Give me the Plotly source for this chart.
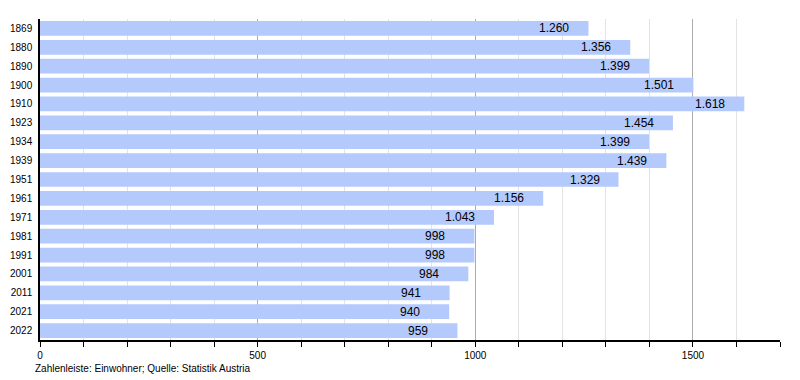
import plotly.graph_objects as go

years = ["1869", "1880", "1890", "1900", "1910", "1923", "1934", "1939", "1951",
         "1961", "1971", "1981", "1991", "2001", "2011", "2021", "2022"]
population = [1260, 1356, 1399, 1501, 1618, 1454, 1399, 1439, 1329,
              1156, 1043, 998, 998, 984, 941, 940, 959]
x_ticks = [0, 500, 1000, 1500]
caption = "Zahlenleiste: Einwohner; Quelle: Statistik Austria"


def fmt(v):
    return f"{v:,}".replace(",", ".")


FONT = "Liberation Sans, Arial, Helvetica, sans-serif"

fig = go.Figure()
fig.add_trace(go.Bar(
    x=population, y=years, orientation="h",
    marker=dict(color="rgb(180,201,252)", line=dict(width=0)),
    hoverinfo="skip",
))

annotations = []
for i, v in enumerate(population):
    annotations.append(dict(
        x=v, y=i, xref="x", yref="y", text=fmt(v), showarrow=False,
        xanchor="left", yanchor="middle", xshift=-51,
        font=dict(family=FONT, size=12, color="#000000"),
    ))
annotations.append(dict(
    x=0, y=0, xref="paper", yref="paper", text=caption, showarrow=False,
    xanchor="left", yanchor="middle", xshift=-7, yshift=-28,
    font=dict(family=FONT, size=10, color="#000000"),
))

fig.update_layout(
    width=800, height=380,
    margin=dict(l=32, r=28, t=11, b=48, autoexpand=False),
    paper_bgcolor="white", plot_bgcolor="white",
    showlegend=False, bargap=0.22,
    font=dict(family=FONT, size=10, color="#000000"),
    annotations=annotations,
    xaxis=dict(
        range=[0, 1700], tickvals=x_ticks, ticktext=[str(t) for t in x_ticks],
        showgrid=True, gridcolor="#acacac", gridwidth=1,
        showline=True, linecolor="#000000", linewidth=1.5,
        ticks="outside", ticklen=5, tickcolor="#000000", tickwidth=1,
        zeroline=False, layer="above traces",
        minor=dict(dtick=100, tick0=0, showgrid=True,
                   gridcolor="#e3e3e3",
                   ticks="outside", ticklen=5, tickcolor="#000000"),
        tickfont=dict(size=10),
        fixedrange=True,
    ),
    yaxis=dict(
        type="category", categoryorder="array", categoryarray=years,
        range=[len(years) - 0.5, -0.5], autorange=False,
        showgrid=False, showline=True, linecolor="#000000", linewidth=1.5,
        ticks="outside", ticklen=4, tickcolor="rgba(0,0,0,0)",
        tickfont=dict(size=10), zeroline=False, fixedrange=True,
        layer="above traces",
    ),
)

fig.write_html("out.html")
